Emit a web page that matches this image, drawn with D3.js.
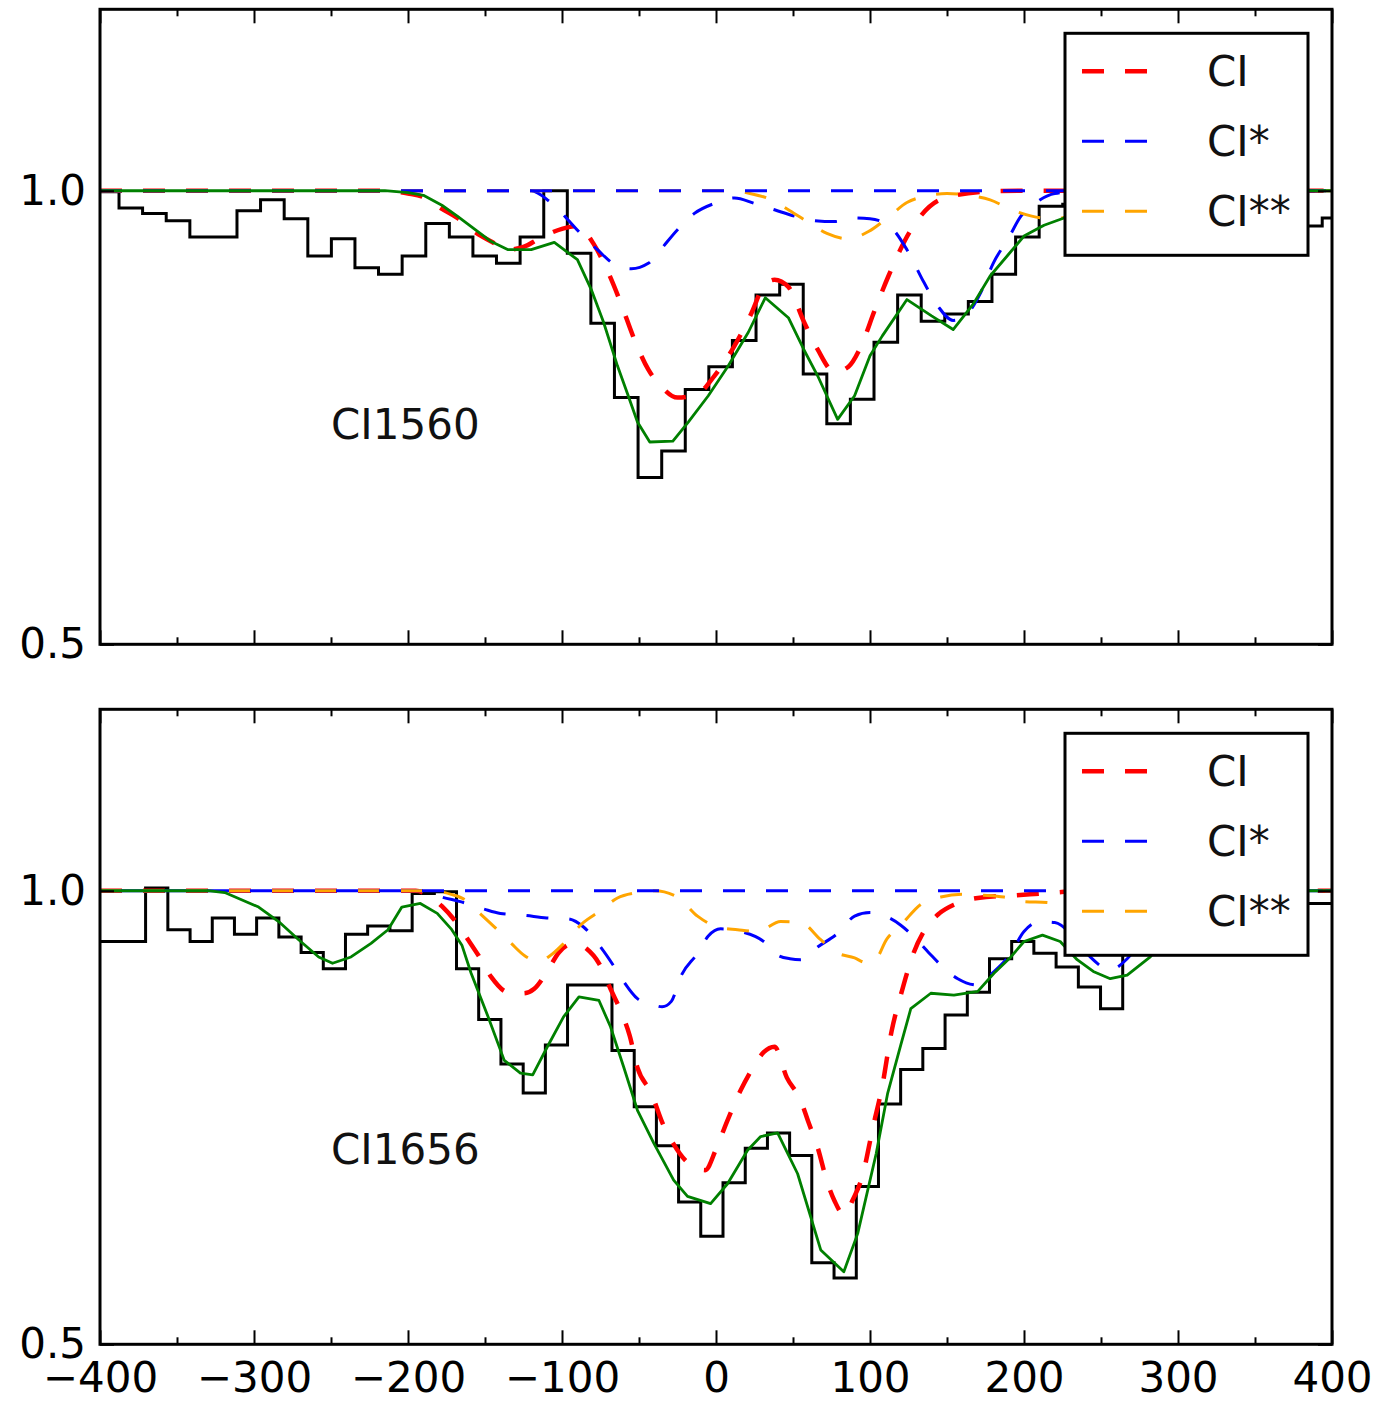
<!DOCTYPE html>
<html>
<head>
<meta charset="utf-8">
<script src="https://cdn.jsdelivr.net/npm/d3@7"></script>
<style>
  body { margin: 0; background: #fff; }
  text { font-family: "DejaVu Sans", sans-serif; }
</style>
</head>
<body>
<script>
// ---- data: CI1560 panel ----
const topVel = [-410.6, -395.3, -380.0, -364.7, -349.3, -334.0, -318.7, -303.4, -288.1, -272.7, -257.4,
  -242.1, -226.8, -211.5, -196.1, -180.8, -165.5, -150.2, -134.9, -119.5, -104.2, -88.9, -73.6, -58.3,
  -42.9, -27.6, -12.3, 3.0, 18.3, 33.7, 49.0, 64.3, 79.6, 94.9, 110.3, 125.6, 140.9, 156.2, 171.5,
  186.9, 202.2, 217.5, 232.8, 248.1, 263.5, 278.8, 294.1, 309.4, 324.7, 340.1, 355.4, 370.7, 386.0, 401.3];
const topFlux = [1.0, 0.999, 0.981, 0.975, 0.967, 0.949, 0.949, 0.978, 0.990, 0.969, 0.928,
  0.947, 0.915, 0.908, 0.928, 0.964, 0.949, 0.928, 0.920, 0.949, 1.000, 0.931, 0.854, 0.772,
  0.684, 0.713, 0.781, 0.806, 0.835, 0.885, 0.897, 0.798, 0.743, 0.770, 0.833, 0.885, 0.856, 0.864,
  0.878, 0.908, 0.949, 0.983, 0.985, 0.990, 0.975, 0.980, 0.995, 0.985, 0.970, 0.975, 0.965, 0.960,
  0.961, 0.970];

const topCI = [[-400, 1], [-215, 1], [-200, 0.997], [-190, 0.993], [-178, 0.98], [-168, 0.97], [-157, 0.955],
  [-146, 0.944], [-135, 0.935], [-125, 0.938], [-114, 0.948], [-100, 0.958], [-90, 0.961], [-79, 0.94],
  [-70, 0.91], [-62, 0.877], [-53, 0.836], [-44, 0.803], [-36, 0.785], [-25, 0.772], [-12, 0.776],
  [-1, 0.796], [12, 0.829], [23, 0.865], [31, 0.895], [38, 0.902], [47, 0.894], [57, 0.856], [66, 0.825],
  [77, 0.8], [86, 0.806], [94, 0.828], [103, 0.868], [112, 0.906], [127, 0.958], [147, 0.991], [176, 0.999],
  [200, 1], [400, 1]];
const topCIs = [[-400, 1], [-120, 1], [-108, 0.988], [-88, 0.953], [-77, 0.935], [-66, 0.919], [-55, 0.914],
  [-44, 0.92], [-36, 0.935], [-25, 0.957], [-14, 0.975], [-1, 0.986], [12, 0.992], [25, 0.986], [38, 0.979],
  [51, 0.972], [64, 0.967], [77, 0.966], [88, 0.97], [100, 0.969], [112, 0.962], [124, 0.935], [135, 0.899],
  [144, 0.873], [154, 0.857], [164, 0.866], [172, 0.888], [180, 0.92], [190, 0.948], [198, 0.972],
  [207, 0.986], [220, 0.997], [240, 1], [400, 1]];
const topCIsFlat = [[-400, 1], [400, 1]];
const topCIss = [[-400, 1], [10, 1], [22, 0.997], [36, 0.99], [48, 0.978], [60, 0.965], [72, 0.953],
  [86, 0.947], [99, 0.955], [112, 0.971], [124, 0.987], [136, 0.994], [150, 0.997], [164, 0.995],
  [178, 0.99], [192, 0.979], [205, 0.972], [219, 0.969], [235, 0.975], [255, 0.99], [280, 0.998],
  [300, 1], [400, 1]];
const topFit = [[-400, 1], [-215, 1], [-200, 0.998], [-190, 0.995], [-178, 0.984], [-168, 0.972],
  [-157, 0.958], [-146, 0.944], [-135, 0.935], [-120, 0.935], [-105, 0.943], [-90, 0.924], [-81, 0.891],
  [-73, 0.855], [-64, 0.807], [-57, 0.774], [-51, 0.745], [-43, 0.723], [-28, 0.724], [-18, 0.745],
  [-5, 0.774], [8, 0.807], [21, 0.844], [32, 0.882], [47, 0.86], [57, 0.825], [66, 0.796], [79, 0.748],
  [90, 0.774], [100, 0.818], [108, 0.84], [124, 0.88], [140, 0.862], [154, 0.847], [167, 0.875],
  [178, 0.906], [190, 0.93], [200, 0.95], [213, 0.962], [226, 0.97], [245, 0.98], [265, 0.99],
  [290, 0.998], [310, 1], [400, 1]];

// ---- data: CI1656 panel ----
const botVel = [-406.4, -392.0, -377.6, -363.2, -348.7, -334.3, -319.9, -305.5, -291.1, -276.6, -262.2,
  -247.8, -233.4, -219.0, -204.5, -190.1, -175.7, -161.3, -146.9, -132.4, -118.0, -103.6, -89.2, -74.8,
  -60.3, -45.9, -31.5, -17.1, -2.7, 11.8, 26.2, 40.6, 55.0, 69.4, 83.9, 98.3, 112.7, 127.1, 141.5,
  156.0, 170.4, 184.8, 199.2, 213.6, 228.1, 242.5, 256.9, 271.3, 285.7, 300.2, 314.6, 329.0, 343.4,
  357.8, 372.3, 386.7, 401.1];
const botFlux = [0.944, 0.944, 0.944, 1.003, 0.957, 0.944, 0.970, 0.952, 0.970, 0.949, 0.932,
  0.914, 0.952, 0.961, 0.956, 0.997, 0.999, 0.914, 0.858, 0.809, 0.777, 0.830, 0.896, 0.896,
  0.824, 0.762, 0.719, 0.657, 0.619, 0.678, 0.716, 0.733, 0.708, 0.590, 0.573, 0.674, 0.765, 0.803,
  0.826, 0.863, 0.888, 0.925, 0.944, 0.931, 0.916, 0.894, 0.870, 0.950, 0.970, 0.985, 0.990, 0.980,
  0.985, 0.990, 0.985, 0.986, 0.986];

const botCI = [[-400, 1], [-195, 1], [-185, 0.993], [-178, 0.983], [-170, 0.968], [-161, 0.946],
  [-154, 0.928], [-146, 0.905], [-135, 0.888], [-125, 0.887], [-118, 0.892], [-110, 0.91], [-102, 0.932],
  [-92, 0.942], [-84, 0.936], [-76, 0.92], [-68, 0.89], [-62, 0.868], [-56, 0.84], [-51, 0.805],
  [-42, 0.777], [-35, 0.745], [-28, 0.722], [-20, 0.703], [-7, 0.692], [0, 0.715], [7, 0.745],
  [16, 0.78], [24, 0.805], [31, 0.822], [38, 0.828], [46, 0.794], [55, 0.769], [60, 0.745], [66, 0.717],
  [72, 0.68], [77, 0.658], [83, 0.643], [89, 0.66], [95, 0.685], [102, 0.74], [108, 0.785], [114, 0.845],
  [120, 0.885], [128, 0.93], [136, 0.958], [145, 0.975], [155, 0.985], [170, 0.992], [195, 0.995],
  [220, 0.998], [240, 1], [400, 1]];
const botCIs = [[-400, 1], [-190, 1], [-178, 0.993], [-166, 0.988], [-151, 0.98], [-140, 0.975],
  [-125, 0.973], [-110, 0.97], [-96, 0.969], [-86, 0.96], [-75, 0.938], [-66, 0.916], [-60, 0.9],
  [-51, 0.881], [-42, 0.875], [-35, 0.872], [-29, 0.878], [-23, 0.905], [-12, 0.931], [-5, 0.95],
  [3, 0.958], [16, 0.955], [31, 0.944], [40, 0.929], [48, 0.925], [55, 0.924], [66, 0.938], [79, 0.953],
  [90, 0.972], [100, 0.976], [110, 0.972], [120, 0.962], [128, 0.95], [138, 0.932], [146, 0.918],
  [157, 0.903], [170, 0.896], [180, 0.91], [191, 0.93], [200, 0.955], [210, 0.966], [220, 0.965],
  [232, 0.95], [243, 0.927], [256, 0.913], [267, 0.925], [280, 0.955], [295, 0.985], [310, 0.997],
  [325, 1], [400, 1]];
const botCIsFlat = [[-400, 1], [400, 1]];
const botCIss = [[-400, 1], [-185, 1], [-172, 0.996], [-163, 0.99], [-154, 0.976], [-142, 0.957],
  [-133, 0.942], [-124, 0.928], [-115, 0.922], [-108, 0.928], [-100, 0.94], [-92, 0.955], [-86, 0.965],
  [-75, 0.978], [-64, 0.992], [-51, 0.998], [-40, 1.0], [-25, 0.993], [-12, 0.972], [1, 0.96], [14, 0.957],
  [27, 0.955], [42, 0.966], [55, 0.965], [68, 0.946], [78, 0.932], [90, 0.926], [97, 0.921], [103, 0.923],
  [111, 0.947], [120, 0.962], [133, 0.985], [146, 0.993], [160, 0.996], [174, 0.995], [187, 0.993],
  [200, 0.988], [215, 0.987], [228, 0.984], [245, 0.985], [270, 0.992], [300, 1], [400, 1]];
const botFit = [[-400, 1], [-330, 1], [-319, 0.998], [-297, 0.982], [-284, 0.966], [-271, 0.946],
  [-258, 0.927], [-249, 0.92], [-237, 0.927], [-224, 0.942], [-213, 0.957], [-204, 0.982], [-192, 0.986],
  [-181, 0.975], [-172, 0.958], [-165, 0.94], [-159, 0.909], [-148, 0.861], [-137.5, 0.813], [-127, 0.799],
  [-119, 0.797], [-109.5, 0.828], [-99, 0.861], [-89, 0.883], [-76, 0.879], [-68.5, 0.85], [-60, 0.806],
  [-51, 0.758], [-40.5, 0.722], [-27.5, 0.681], [-18.5, 0.663], [-3.5, 0.655], [7.5, 0.677], [20.5, 0.714],
  [29, 0.729], [40, 0.733], [53, 0.688], [68, 0.604], [83, 0.58], [92, 0.622], [104, 0.71], [111.5, 0.777],
  [120, 0.83], [126.5, 0.87], [139.5, 0.887], [154.5, 0.885], [170, 0.889], [180.5, 0.909], [191.5, 0.927],
  [200, 0.944], [212, 0.951], [223.5, 0.944], [234.5, 0.924], [245, 0.911], [256, 0.903], [267, 0.907],
  [282, 0.927], [295, 0.955], [310, 0.98], [325, 0.995], [340, 1], [400, 1]];

const xTicks = [-400, -300, -200, -100, 0, 100, 200, 300, 400];
const xMinorTicks = [-350, -250, -150, -50, 50, 150, 250, 350];
const yTicks = [0.5, 1.0];
const legendLabels = ["CI", "CI*", "CI**"];

// ---- layout ----
const W = 1400, H = 1402;
const left = 100, right = 1332;
const panels = [
  { top: 9.3, bottom: 644.3, vel: topVel, flux: topFlux, ci: topCI, cis: [topCIs], cisFlat: topCIsFlat,
    ciss: [topCIss], fit: topFit, label: "CI1560", labelAt: [-250, 0.726], xLabels: false, flatOffset: 0 },
  { top: 709.3, bottom: 1344.3, vel: botVel, flux: botFlux, ci: botCI, cis: [botCIs], cisFlat: botCIsFlat,
    ciss: [botCIss], fit: botFit, label: "CI1656", labelAt: [-250, 0.699], xLabels: true, flatOffset: 22 }
];

const styles = {
  ci:   { color: "#ff0000", width: 4.5, dash: "22,21" },
  cis:  { color: "#0000ff", width: 3, dash: "22,21" },
  ciss: { color: "#ffa500", width: 3, dash: "22,21" }
};

const svg = d3.select("body").append("svg")
    .attr("width", W)
    .attr("height", H);
svg.append("rect").attr("width", W).attr("height", H).attr("fill", "#fff");

const x = d3.scaleLinear().domain([-400, 400]).range([left, right]);

panels.forEach((p, i) => {
  const y = d3.scaleLinear().domain([0.5, 1.2]).range([p.bottom, p.top]);
  const g = svg.append("g");

  g.append("clipPath").attr("id", "clip" + i)
    .append("rect")
      .attr("x", left).attr("y", p.top)
      .attr("width", right - left).attr("height", p.bottom - p.top);

  const plot = g.append("g").attr("clip-path", `url(#clip${i})`);

  // observed spectrum, steps-mid
  const hist = d3.line()
      .x(d => x(d[0]))
      .y(d => y(d[1]))
      .curve(d3.curveStep);
  plot.append("path")
      .datum(p.vel.map((v, k) => [v, p.flux[k]]))
      .attr("d", hist)
      .attr("fill", "none")
      .attr("stroke", "#000")
      .attr("stroke-width", 3);

  const smooth = d3.line()
      .x(d => x(d[0]))
      .y(d => y(d[1]))
      .curve(d3.curveMonotoneX);

  const dashed = (data, st) => plot.append("path")
      .datum(data)
      .attr("d", smooth)
      .attr("fill", "none")
      .attr("stroke", st.color)
      .attr("stroke-width", st.width)
      .attr("stroke-dasharray", st.dash);

  dashed(p.ci, styles.ci);
  p.cis.forEach(c => dashed(c, styles.cis));
  p.ciss.forEach(c => dashed(c, styles.ciss));
  // second CI* transition, no absorption in this window
  dashed(p.cisFlat, styles.cis)
      .attr("stroke-dashoffset", p.flatOffset);

  // total fit
  plot.append("path")
      .datum(p.fit)
      .attr("d", d3.line().x(d => x(d[0])).y(d => y(d[1])))
      .attr("fill", "none")
      .attr("stroke", "#008000")
      .attr("stroke-width", 2.8)
      .attr("stroke-linejoin", "round");

  // axes, ticks inward
  const axes = g.append("g");
  const bottomAxis = d3.axisBottom(x).tickValues(xTicks).tickSizeInner(-14).tickSizeOuter(0).tickPadding(18)
      .tickFormat(p.xLabels ? d3.format("d") : () => "");
  const topAxis = d3.axisTop(x).tickValues(xTicks).tickSizeInner(-14).tickSizeOuter(0).tickFormat(() => "");
  const bottomMinor = d3.axisBottom(x).tickValues(xMinorTicks).tickSizeInner(-7).tickSizeOuter(0).tickFormat(() => "");
  const topMinor = d3.axisTop(x).tickValues(xMinorTicks).tickSizeInner(-7).tickSizeOuter(0).tickFormat(() => "");
  const leftAxis = d3.axisLeft(y).tickValues(yTicks).tickSizeInner(-14).tickSizeOuter(0).tickPadding(14)
      .tickFormat(d3.format(".1f"));
  const rightAxis = d3.axisRight(y).tickValues(yTicks).tickSizeInner(-14).tickSizeOuter(0).tickFormat(() => "");

  [[bottomAxis, `translate(0,${p.bottom})`], [topAxis, `translate(0,${p.top})`],
   [bottomMinor, `translate(0,${p.bottom})`], [topMinor, `translate(0,${p.top})`],
   [leftAxis, `translate(${left},0)`], [rightAxis, `translate(${right},0)`]].forEach(([ax, tr]) => {
    const a = axes.append("g").attr("transform", tr).call(ax);
    a.select(".domain").remove();
    a.selectAll(".tick line").attr("stroke", "#000").attr("stroke-width", 2);
    a.selectAll(".tick text").attr("fill", "#000").attr("font-family", "DejaVu Sans").attr("font-size", 42);
  });

  // frame
  g.append("rect")
      .attr("x", left).attr("y", p.top)
      .attr("width", right - left).attr("height", p.bottom - p.top)
      .attr("fill", "none")
      .attr("stroke", "#000")
      .attr("stroke-width", 3);

  // transition label
  g.append("text")
      .attr("x", x(p.labelAt[0]))
      .attr("y", y(p.labelAt[1]))
      .attr("font-size", 42)
      .attr("fill", "#111")
      .text(p.label);

  // legend
  const lg = g.append("g").attr("transform", `translate(1065,${p.top + 24})`);
  lg.append("rect")
      .attr("width", 243).attr("height", 222)
      .attr("fill", "#fff")
      .attr("stroke", "#000")
      .attr("stroke-width", 3);
  [styles.ci, styles.cis, styles.ciss].forEach((st, k) => {
    const yy = 38 + k * 70;
    lg.append("line")
        .attr("x1", 17).attr("x2", 85)
        .attr("y1", yy).attr("y2", yy)
        .attr("stroke", st.color)
        .attr("stroke-width", st.width)
        .attr("stroke-dasharray", st.dash);
    lg.append("text")
        .attr("x", 142).attr("y", yy + 15)
        .attr("font-size", 42)
        .attr("fill", "#111")
        .text(legendLabels[k]);
  });
});
</script>
</body>
</html>
